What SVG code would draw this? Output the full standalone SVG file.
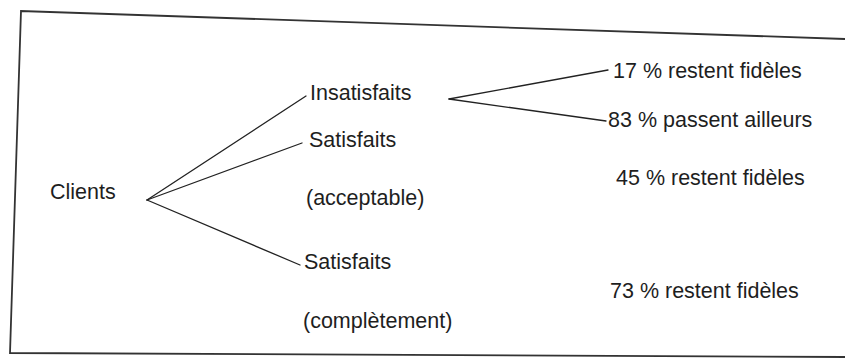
<svg xmlns="http://www.w3.org/2000/svg" width="845" height="359" viewBox="0 0 845 359">
<style>
.t{font-family:"Liberation Sans",Arial,sans-serif;font-size:21.5px;fill:#1e1e1e}
.c{stroke:#222;stroke-width:1.3;fill:none;stroke-linecap:round}
.f{stroke:#333;stroke-width:1.8;fill:none}
</style>
<rect width="845" height="359" fill="#fff"/>
<polyline class="f" points="845,39 21,11 10,353 845,357"/>
<g id="connectors">
<line class="c" x1="147" y1="200" x2="306" y2="96"/>
<line class="c" x1="147" y1="200" x2="302" y2="143"/>
<line class="c" x1="147" y1="200" x2="300" y2="265"/>
<line class="c" x1="449" y1="99" x2="608" y2="70"/>
<line class="c" x1="449" y1="99" x2="606" y2="121"/>
</g>
<g id="clients"><text class="t" x="50" y="199">Clients</text></g>
<g id="insatisfaits"><text class="t" x="310" y="100">Insatisfaits</text></g>
<g id="satisfaits-acceptable"><text class="t" x="309" y="147">Satisfaits</text><text class="t" x="306" y="205">(acceptable)</text></g>
<g id="satisfaits-completement"><text class="t" x="304" y="269">Satisfaits</text><text class="t" x="303" y="328">(complètement)</text></g>
<g id="r17"><text class="t" x="613" y="78">17 % restent fidèles</text></g>
<g id="r83"><text class="t" x="608" y="127">83 % passent ailleurs</text></g>
<g id="r45"><text class="t" x="616" y="185">45 % restent fidèles</text></g>
<g id="r73"><text class="t" x="610" y="298">73 % restent fidèles</text></g>
</svg>
